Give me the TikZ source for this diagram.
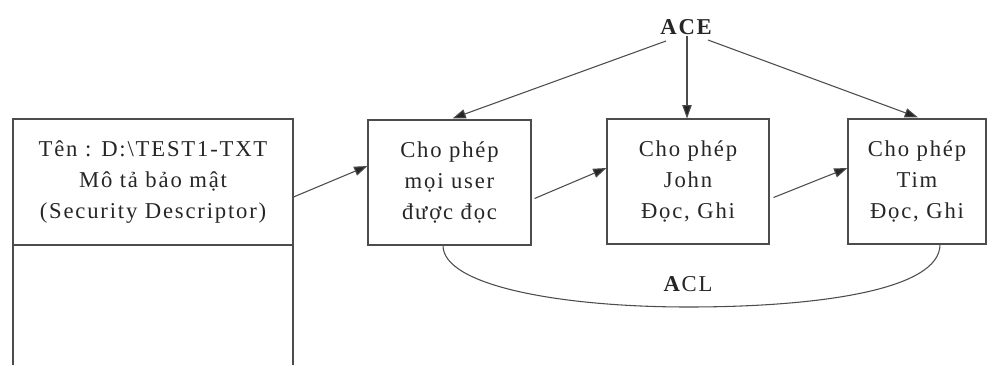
\documentclass[tikz,border=0pt]{standalone}
\usepackage{fontspec}
\setmainfont{Liberation Serif}[LetterSpace=8]
\usetikzlibrary{arrows.meta,calc}
\begin{document}
\begin{tikzpicture}[x=0.75pt,y=-0.75pt,
  ln/.style={draw=black!70,line width=0.8pt},
  box/.style={ln,rectangle,inner sep=0pt,align=center,text=black!85,
    font=\fontsize{17}{23.25}\selectfont},
  arr/.style={ln,-{Triangle[length=10pt,width=7pt,fill=black!85]}},
  lbl/.style={font=\fontsize{17}{20}\selectfont,text=black!85,inner sep=1pt}]
\useasboundingbox (0,0) rectangle (998,364);
\clip (0,0) rectangle (998,364);
% left security descriptor box
\node[box,minimum width=210pt,minimum height=94.5pt] (lb) at (153,182)
  {Tên : D:\textbackslash TEST1-TXT\\Mô tả bảo mật\\(Security Descriptor)};
\node[box,minimum width=210pt,minimum height=101.25pt] (lbb) at (153,312.5) {};
% ACE boxes
\node[box,minimum width=122.25pt,minimum height=93.75pt] (b1) at (449.5,182.5)
  {Cho phép\\mọi user\\được đọc};
\node[box,minimum width=121.5pt,minimum height=93.75pt] (b2) at (688,181.5)
  {Cho phép\\John\\Đọc, Ghi};
\node[box,minimum width=103.5pt,minimum height=93.75pt] (b3) at (917,181.5)
  {Cho phép\\Tim\\Đọc, Ghi};
% labels
\node[lbl] (ace) at (687,27) {\textbf{ACE}};
\node[lbl] (acl) at (688,284) {\textbf{A}CL};
% chain arrows
\draw[arr] ($(lb.east)+(0,15)$) -- ($(b1.west)+(0,-16.5)$);
\draw[arr] ($(b1.east)+(3,16)$) -- ($(b2.west)+(0,-13.5)$);
\draw[arr] ($(b2.east)+(4,16)$) -- ($(b3.west)+(0,-13.5)$);
% ACE arrows
\draw[arr] ($(ace.center)+(-21,14)$) -- ($(b1.north)+(3,-1)$);
\draw[arr] (ace.south) -- (ace.south |- b2.north);
\draw[arr] ($(ace.center)+(21,13)$) -- ($(b3.north)+(1,-1)$);
% ACL curve
\coordinate (c1) at ($(b1.south)+(-6.5,0)$);
\coordinate (c3) at ($(b3.south)+(23,0)$);
\coordinate (cm) at (688,307);
\draw[ln] (c1) .. controls ($(c1)+(0,40)$) and (560,307) .. (cm)
  .. controls (820,307) and ($(c3)+(0,45)$) .. (c3);
\end{tikzpicture}
\end{document}
